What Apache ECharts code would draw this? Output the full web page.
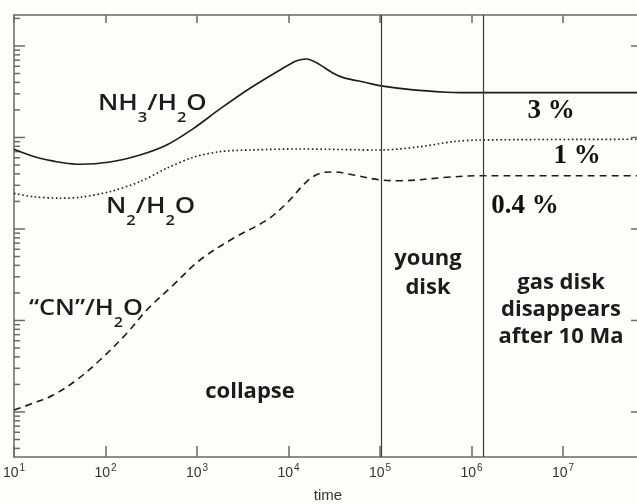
<!DOCTYPE html>
<html>
<head>
<meta charset="utf-8">
<script src="https://cdn.jsdelivr.net/npm/echarts@6/dist/echarts.min.js"></script>
<style>
  html, body { margin: 0; padding: 0; background: #fdfdfc; }
  #chart { width: 637px; height: 504px; }
</style>
</head>
<body>
<div id="chart"></div>
<script>
// Abundance of nitrogen carriers relative to water versus time (years)
const nh3Time  = [10, 19.2, 52.6, 112, 238, 466, 912, 1784, 3793, 8070, 12300, 15800, 20300, 30900, 39700, 71600, 102600, 231000, 535000, 748000, 7.3e7];
const nh3Ratio = [0.00743, 0.00593, 0.00510, 0.00540, 0.00644, 0.00828, 0.0125, 0.0205, 0.0345, 0.0547, 0.0691, 0.0721, 0.0656, 0.0503, 0.0451, 0.0397, 0.0366, 0.0331, 0.0312, 0.0309, 0.0309];

const n2Time  = [10, 16.3, 31.8, 52.6, 112, 238, 466, 912, 1784, 3793, 13400, 102600, 273000, 628000, 1.24e6, 7.3e7];
const n2Ratio = [0.00245, 0.00225, 0.00217, 0.00222, 0.00256, 0.00329, 0.00460, 0.00608, 0.00700, 0.00730, 0.00748, 0.00730, 0.00792, 0.00899, 0.00939, 0.00955];

const cnTime  = [10, 16.3, 26.9, 48.4, 87.1, 171, 282, 551, 1078, 2494, 5780, 9550, 15800, 22100, 30900, 51100, 102600, 166000, 535000, 1.24e6, 7.3e7];
const cnRatio = [1.05e-5, 1.25e-5, 1.53e-5, 2.24e-5, 3.70e-5, 7.24e-5, 1.30e-4, 2.44e-4, 4.58e-4, 7.91e-4, 1.25e-3, 1.91e-3, 3.29e-3, 4.06e-3, 4.20e-3, 3.89e-3, 3.43e-3, 3.37e-3, 3.67e-3, 3.82e-3, 3.82e-3];

// Boundaries between evolutionary phases (years)
const phaseBounds = [1.03e5, 1.34e6];

// Axis extents
const timeRange  = [10, 7.3e7];
const ratioRange = [3.22e-6, 0.218];

const zip = (a, b) => a.map((v, i) => [v, b[i]]);

// Logarithmic tick positions for the vertical axes: [x, value, isMajor]
const ratioTicks = [];
for (let k = -6; k <= 0; k++) {
  for (let m = 1; m <= 9; m++) {
    const v = m * Math.pow(10, k);
    if (v >= ratioRange[0] && v <= ratioRange[1]) ratioTicks.push([timeRange[0], v, m === 1 ? 1 : 0]);
  }
}

const frameColor = '#6a6a6a';
const inkColor = '#1c1c1c';
const sansFont = 'Open Sans';

const chart = echarts.init(document.getElementById('chart'), null, { renderer: 'canvas' });

const timeAxisBase = {
  type: 'log',
  logBase: 10,
  min: timeRange[0],
  max: timeRange[1],
  splitLine: { show: false },
  axisLine: { show: true, lineStyle: { color: frameColor, width: 1.5 } },
};

const ratioAxisBase = {
  type: 'log',
  logBase: 10,
  min: ratioRange[0],
  max: ratioRange[1],
  splitLine: { show: false },
  axisTick: { show: false },
  axisLabel: { show: false },
  axisLine: { show: true, lineStyle: { color: frameColor, width: 1.5 } },
};

function chemLabel(parts, x, y, size, scaleX) {
  // parts: array of [text, isSubscript]
  const text = parts.map(p => p[1] ? '{s|' + p[0] + '}' : '{n|' + p[0] + '}').join('');
  return {
    type: 'text', x: x, y: y, z: 100, scaleX: scaleX, scaleY: 1,
    style: {
      text: text,
      fill: inkColor,
      align: 'left',
      verticalAlign: 'top',
      rich: {
        n: { fontFamily: sansFont, fontWeight: 600, fontSize: size, lineHeight: size + 2, verticalAlign: 'top', fill: inkColor },
        s: { fontFamily: sansFont, fontWeight: 600, fontSize: Math.round(size * 0.64), lineHeight: Math.round(size * 0.64),
             padding: [Math.round(size * 0.8), 0, 0, 0], verticalAlign: 'top', fill: inkColor }
      }
    }
  };
}

function boldLabel(text, cx, cy, size, lh) {
  return {
    type: 'text', x: cx, y: cy, z: 100,
    style: {
      text: text, fill: inkColor, align: 'center', verticalAlign: 'middle',
      fontFamily: sansFont, fontWeight: 'bold', fontSize: size, lineHeight: lh
    }
  };
}

function percentLabel(text, cx, cy) {
  return {
    type: 'text', x: cx, y: cy, z: 100,
    style: {
      text: text, fill: '#111', align: 'center', verticalAlign: 'middle',
      fontFamily: 'Liberation Serif', fontWeight: 'bold', fontSize: 27
    }
  };
}

const option = {
  backgroundColor: '#fdfdfc',
  animation: false,
  grid: { left: 14, right: -5, top: 15, bottom: 47, containLabel: false, outerBoundsMode: 'none' },
  xAxis: [
    Object.assign({}, timeAxisBase, {
      position: 'bottom',
      axisTick: { show: true, inside: true, length: 11, lineStyle: { color: frameColor, width: 1.5 } },
      axisLabel: {
        show: true, margin: 6, showMaxLabel: false, color: '#333',
        formatter: v => '{b|10}{e|' + Math.round(Math.log10(v)) + '}',
        rich: {
          b: { fontFamily: 'Liberation Sans', fontSize: 14, lineHeight: 17, verticalAlign: 'bottom', color: '#333' },
          e: { fontFamily: 'Liberation Sans', fontSize: 10, lineHeight: 17, verticalAlign: 'top', color: '#333', padding: [0, 0, 0, 1] }
        }
      },
      name: 'time', nameLocation: 'middle', nameGap: 31,
      nameTextStyle: { fontFamily: 'Liberation Sans', fontSize: 15, color: '#333' }
    }),
    Object.assign({}, timeAxisBase, {
      position: 'top',
      axisTick: { show: true, inside: true, length: 8, lineStyle: { color: frameColor, width: 1.5 } },
      axisLabel: { show: false }
    })
  ],
  yAxis: [
    Object.assign({}, ratioAxisBase, { position: 'left' }),
    Object.assign({}, ratioAxisBase, { position: 'right' })
  ],
  series: [
    {
      name: 'NH3/H2O', type: 'line', xAxisIndex: 0, yAxisIndex: 0,
      data: zip(nh3Time, nh3Ratio), showSymbol: false, smooth: 0.3,
      lineStyle: { color: inkColor, width: 1.6, type: 'solid' },
      markLine: {
        silent: true, symbol: ['none', 'none'], label: { show: false },
        lineStyle: { color: '#3a3a3a', width: 1.2, type: 'solid' },
        data: phaseBounds.map(t => ({ xAxis: t }))
      }
    },
    {
      name: 'N2/H2O', type: 'line', xAxisIndex: 0, yAxisIndex: 0,
      data: zip(n2Time, n2Ratio), showSymbol: false, smooth: 0.3,
      lineStyle: { color: inkColor, width: 1.6, type: [1.6, 2.6] }
    },
    {
      name: 'CN/H2O', type: 'line', xAxisIndex: 0, yAxisIndex: 0,
      data: zip(cnTime, cnRatio), showSymbol: false, smooth: 0.35,
      lineStyle: { color: inkColor, width: 1.6, type: [7, 5] }
    },
    {
      // log-spaced ticks on the left and right frame
      name: 'ratio ticks', type: 'custom', xAxisIndex: 0, yAxisIndex: 0, silent: true,
      encode: { x: 0, y: 1 },
      data: ratioTicks,
      renderItem: function (params, api) {
        const v = api.value(1);
        const major = api.value(2) === 1;
        const p = api.coord([timeRange[0], v]);
        const q = api.coord([timeRange[1], v]);
        const len = major ? 11 : 6;
        const st = { stroke: frameColor, lineWidth: 1.5 };
        const children = [{ type: 'line', shape: { x1: p[0], y1: p[1], x2: p[0] + len, y2: p[1] }, style: st }];
        if (major) children.push({ type: 'line', shape: { x1: q[0] - len, y1: q[1], x2: q[0], y2: q[1] }, style: st });
        return { type: 'group', children: children };
      }
    }
  ],
  graphic: [
    chemLabel([['NH', 0], ['3', 1], ['/H', 0], ['2', 1], ['O', 0]], 98, 93, 22, 1.18),
    chemLabel([['N', 0], ['2', 1], ['/H', 0], ['2', 1], ['O', 0]], 106, 196, 22, 1.18),
    chemLabel([['\u201CCN\u201D/H', 0], ['2', 1], ['O', 0]], 29, 298, 22, 1.15),
    boldLabel('young\ndisk', 428, 273, 22, 29),
    boldLabel('gas disk\ndisappears\nafter 10 Ma', 561, 310, 22, 27),
    boldLabel('collapse', 250, 392, 22, 26),
    percentLabel('3 %', 551, 111),
    percentLabel('1 %', 577, 156),
    percentLabel('0.4 %', 525, 206)
  ]
};

chart.setOption(option);
</script>
</body>
</html>
